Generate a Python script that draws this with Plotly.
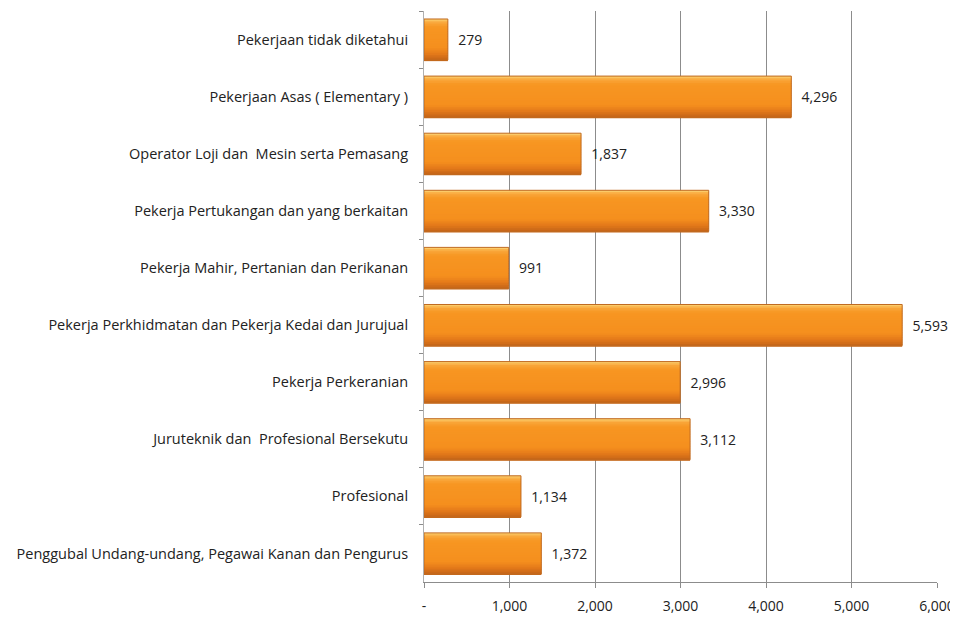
import plotly.graph_objects as go

categories = [
    "Pekerjaan tidak diketahui",
    "Pekerjaan Asas ( Elementary )",
    "Operator Loji dan  Mesin serta Pemasang",
    "Pekerja Pertukangan dan yang berkaitan",
    "Pekerja Mahir, Pertanian dan Perikanan",
    "Pekerja Perkhidmatan dan Pekerja Kedai dan Jurujual",
    "Pekerja Perkeranian",
    "Juruteknik dan  Profesional Bersekutu",
    "Profesional",
    "Penggubal Undang-undang, Pegawai Kanan dan Pengurus",
]
values = [279, 4296, 1837, 3330, 991, 5593, 2996, 3112, 1134, 1372]
tick_vals = [0, 1000, 2000, 3000, 4000, 5000, 6000]
tick_text = ["-", "1,000", "2,000", "3,000", "4,000", "5,000", "6,000"]

FONT = "'Open Sans', sans-serif"
BAR_W = 0.72

# vertical gradient stops (position 0=top .. 1=bottom) for the bar fill
stops = [(0.0, (252, 214, 120)), (0.08, (249, 168, 60)), (0.2, (247, 150, 34)),
         (0.7, (245, 143, 30)), (0.85, (228, 122, 26)), (1.0, (196, 100, 24))]


def col_at(t):
    for (t0, c0), (t1, c1) in zip(stops[:-1], stops[1:]):
        if t0 <= t <= t1:
            f = (t - t0) / (t1 - t0) if t1 > t0 else 0
            return "rgb(%d,%d,%d)" % tuple(round(a + (b - a) * f) for a, b in zip(c0, c1))
    return "rgb(%d,%d,%d)" % stops[-1][1]


fig = go.Figure()
n = 24
sw = BAR_W / n
for i in range(n):
    fig.add_trace(go.Bar(
        y=categories, x=values, orientation="h",
        marker=dict(color=col_at((i + 0.5) / n), line=dict(width=0)),
        width=sw * 1.6, offset=-BAR_W / 2 + i * sw,
        hoverinfo="skip",
    ))
# outline + value labels
fig.add_trace(go.Bar(
    y=categories, x=values, orientation="h",
    marker=dict(color="rgba(0,0,0,0)", line=dict(color="#C06A20", width=1)),
    width=BAR_W,
    text=["  " + f"{v:,}" for v in values],
    textposition="outside", cliponaxis=False,
    textfont=dict(family=FONT, size=14, color="#222222"),
    hoverinfo="skip",
))

# note: page body adds an 8px offset, compensated in the margins
fig.update_layout(
    width=958, height=618,
    margin=dict(l=416, r=29, t=3, b=44),
    barmode="overlay",
    showlegend=False,
    plot_bgcolor="white", paper_bgcolor="white",
    font=dict(family=FONT, size=14, color="#222222"),
)
fig.update_xaxes(
    range=[0, 6000], tickvals=tick_vals, ticktext=tick_text,
    showgrid=True, gridcolor="#8c8c8c", gridwidth=1,
    showline=True, linecolor="#8c8c8c", linewidth=1,
    ticks="outside", ticklen=5, tickcolor="#8c8c8c",
    zeroline=False, tickfont=dict(size=14), automargin=False,
    ticklabelstandoff=6,
)
fig.update_yaxes(
    autorange="reversed", showgrid=False,
    showline=True, linecolor="#b0b0b0",
    ticks="outside", ticklen=4, tickcolor="#8c8c8c", tickson="boundaries",
    ticklabelstandoff=12, tickfont=dict(size=14.5), automargin=False,
)

fig.write_html("out.html")
